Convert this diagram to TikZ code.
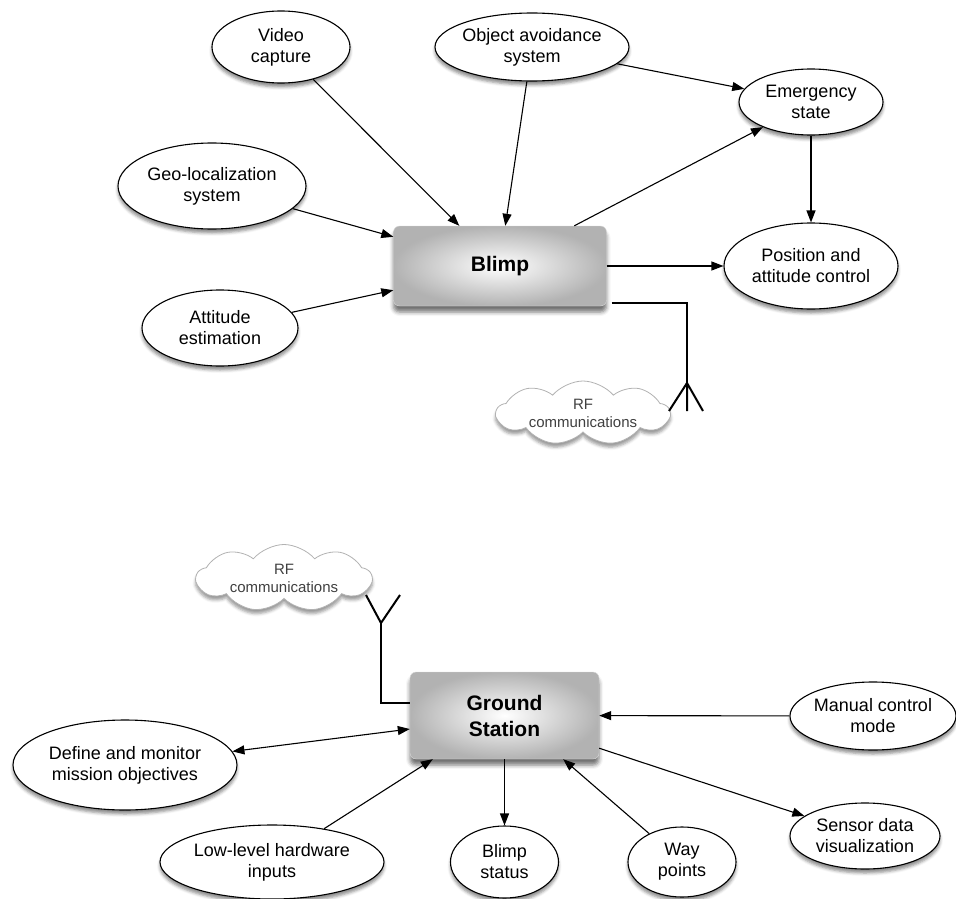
\documentclass[tikz,border=0pt]{standalone}
\usepackage{fontspec}
\setmainfont{Liberation Sans}
\usetikzlibrary{arrows.meta,shapes.geometric,shapes.symbols,shadows.blur}

\begin{document}
\begin{tikzpicture}[x=1pt,y=-1pt,
    >={Triangle[length=12pt,width=9pt]},
    sz/.style 2 args={minimum width=#1pt,minimum height=#2pt},
    txt/.style={align=center,font=\fontsize{18}{21}\selectfont},
    tl/.style={label={[txt]center:#1}},
    func/.style={ellipse,draw,line width=1.1pt,fill=white,inner sep=0pt,
      blur shadow={shadow xshift=0pt,shadow yshift=-4pt,shadow blur radius=3pt,shadow opacity=45}},
    unit/.style={rectangle,rounded corners=6pt,draw=black!15,inner color=white,outer color=black!30,
      align=center,font=\bfseries\fontsize{21}{26}\selectfont,
      blur shadow={shadow xshift=0pt,shadow yshift=-6pt,shadow blur radius=4pt,shadow opacity=55}},
    rf/.style={cloud,cloud puffs=9,cloud puff arc=100,cloud ignores aspect,draw=black!30,line width=0.8pt,fill=white,inner sep=0pt,
      blur shadow={shadow xshift=0pt,shadow yshift=-4pt,shadow blur radius=3pt,shadow opacity=40},
      label={[align=center,text=black!75,font=\fontsize{15}{18}\selectfont]center:#1}},
    link/.style={->,line width=1.1pt},
    wire/.style={line width=2pt}]
    \useasboundingbox (0,0) rectangle (956,899);
    % Blimp side
    \node[func,sz={138}{72},tl={Video\\capture}] (video) at (281,47) {};
    \node[func,sz={194}{68},tl={Object avoidance\\system}] (avoid) at (532,47) {};
    \node[func,sz={144}{66},tl={Emergency\\state}] (emerg) at (811,102) {};
    \node[func,sz={188}{86},tl={Geo-localization\\system}] (geo) at (212,186) {};
    \node[unit,sz={213}{80}] (blimp) at (500,266) {Blimp};
    \node[func,sz={174}{86},tl={Position and\\attitude control}] (posctl) at (811,266) {};
    \node[func,sz={156}{76},tl={Attitude\\estimation}] (attest) at (220,328) {};
    \node[rf={RF\\communications},sz={173}{64}] (cloudA) at (583,413) {};
    \coordinate (antA) at (687,383);
    \draw[link] (video) -- ([xshift=66pt]blimp.north west);
    \draw[link] (geo) -- ([yshift=-11pt]blimp.north west);
    \draw[link] (attest) -- ([yshift=16pt]blimp.south west);
    \draw[link] (avoid) -- ([xshift=112pt]blimp.north west);
    \draw[link] (avoid) -- (emerg);
    \draw[link] ([xshift=181pt]blimp.north west) -- (emerg);
    \draw[link] (emerg) -- (posctl);
    \draw[link] (blimp) -- (posctl);
    % Antenna
    \draw[wire] ([xshift=5pt,yshift=3pt]blimp.south east) -| (antA);
    \draw[wire] (antA) -- ++(-18,28) (antA) -- ++(0,28) (antA) -- ++(16,28);
    % Ground station side
    \node[rf={RF\\communications},sz={175}{67}] (cloudB) at (284,578) {};
    \node[unit,sz={189}{87}] (ground) at (504.5,715.5) {Ground\\Station};
    \node[func,sz={166}{68},tl={Manual control\\mode}] (manual) at (873,716) {};
    \node[func,sz={224}{90},tl={Define and monitor\\mission objectives}] (mission) at (125,765) {};
    \node[func,sz={150}{66},tl={Sensor data\\visualization}] (sensor) at (865,836) {};
    \node[func,sz={224}{74},tl={Low-level hardware\\inputs}] (lowlvl) at (272,862) {};
    \node[func,sz={108}{72},tl={Blimp\\status}] (bstatus) at (504.5,862) {};
    \node[func,sz={108}{70},tl={Way\\points}] (waypts) at (682,862) {};
    \coordinate (antB) at (381,623);
    \draw[wire] ([yshift=12.5pt]ground.west) -| (antB);
    \draw[wire] (antB) -- ++(-15,-28) (antB) -- ++(19,-28);
    \draw[link,<->] (mission) -- ([yshift=-13.5pt]ground.west);
    \draw[link] (lowlvl) -- ([xshift=23pt]ground.south west);
    \draw[link] (ground) -- (bstatus);
    \draw[link] (waypts) -- ([xshift=-36pt]ground.south east);
    \draw[link] (manual) -- (ground);
    \draw[link] ([yshift=11pt]ground.south east) -- (sensor);
\end{tikzpicture}
\end{document}
